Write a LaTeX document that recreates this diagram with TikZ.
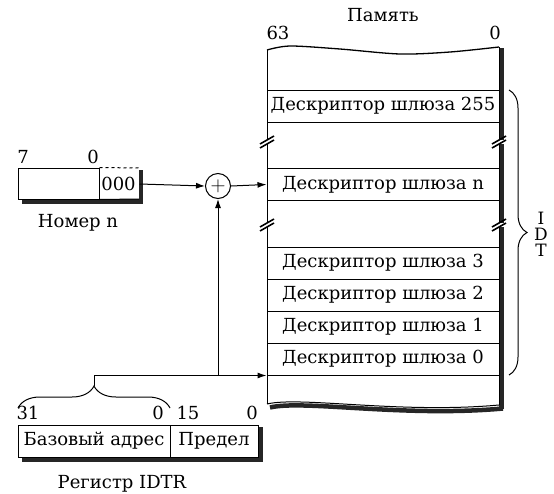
\documentclass[tikz,border=0pt]{standalone}
\usepackage{fontspec}
\setmainfont{DejaVu Serif}
\usetikzlibrary{arrows.meta, decorations.pathreplacing}

\begin{document}
\begin{tikzpicture}[x=1pt, y=-1pt, line width=1pt,
        every node/.style={font=\fontsize{18}{21}\selectfont},
        slot/.style={draw, minimum width=232pt, minimum height=32pt, inner sep=0pt},
        field/.style={draw, minimum height=32pt, inner sep=0pt},
        shade/.style={line width=4.5pt, black!85},
        arr/.style={-{Latex[length=9pt, width=6pt]}}]
        \useasboundingbox (0,0) rectangle (554,493);

        % Memory column
        \draw[shade] (501.5,48) -- (501.5,409);
        \draw[shade] (270,407.5) .. controls (303,399.5) and (403,417.5) .. (503,408.5);
        \draw[line width=1.3pt] plot[smooth] coordinates {(267,50) (290,46) (340,49) (400,54) (450,52) (499,47)};
        \draw (267,50) -- (267,404);
        \draw (499,47) -- (499,405);
        \draw (267,404) .. controls (300,396) and (400,414) .. (499,405);

        % Descriptors
        \node[slot] (d255) at (383,106) {Дескриптор шлюза 255};
        \node[slot] (dn) at (383,184.5) {Дескриптор шлюза n};
        \foreach \i/\y in {3/263, 2/295, 1/327, 0/359}
            \node[slot] (d\i) at (383,\y) {Дескриптор шлюза \i};

        % Breaks
        \foreach \x/\y in {267/142, 499/142, 267/225, 499/225} {
            \fill[white] (\x-2,\y-2) rectangle (\x+5,\y+2);
            \draw[line width=1.6pt] (\x-7,\y+2) -- (\x+7,\y-6);
            \draw[line width=1.6pt] (\x-7,\y+6) -- (\x+7,\y-2);
        }

        % Memory labels
        \node (memtitle) at (383,15) {Память};
        \node (m63) at (278,33) {63};
        \node (m0) at (495,33) {0};

        % IDT brace
        \draw[decorate, decoration={brace, amplitude=18pt}] (509,90) -- (509,375);
        \node[align=center, font=\fontsize{17}{16}\selectfont] (idt) at (541,234) {I\\D\\T};

        % Number register
        \draw[shade] (141,170) -- (141,201.5) -- (22,201.5);
        \node[field, minimum width=81pt, minimum height=31pt] (nhi) at (58.5,183.5) {};
        \draw[dashed] (nhi.north east) -- (139,168);
        \draw (nhi.south east) -- (139,199);
        \node (nlo) at (118.5,184) {000};
        \node (n7) at (23,157) {7};
        \node (n0) at (93,157) {0};
        \node (nlabel) at (78,223) {Номер n};

        % Adder
        \node[circle, draw, minimum size=25pt, inner sep=0pt, font=\fontsize{20}{20}\selectfont] (sum) at (218,186) {$+$};

        % IDTR register
        \draw[shade] (261,427) -- (261,459.5) -- (22,459.5);
        \node[field, fill=white, minimum width=152pt] (idtrbase) at (94,441) {Базовый адрес};
        \node[field, fill=white, minimum width=88pt] (idtrlimit) at (214,441) {Предел};
        \draw[decorate, decoration={brace, amplitude=22pt}] (18,408) -- (170,408);
        \coordinate (basetip) at (94,386);
        \node (r31) at (28,413) {31};
        \node (r0a) at (158,413) {0};
        \node (r15) at (188,413) {15};
        \node (r0b) at (252,413) {0};
        \node (rlabel) at (122,484) {Регистр IDTR};

        % Connections
        \draw[arr] (nlo.east) -- (sum.west);
        \draw[arr] (sum.east) -- (dn.west);
        \draw[arr] (basetip) -- (basetip |- d0.south) -- (d0.south west);
        \draw[arr] (sum.south |- d0.south) -- (sum.south);
    \end{tikzpicture}
\end{document}
